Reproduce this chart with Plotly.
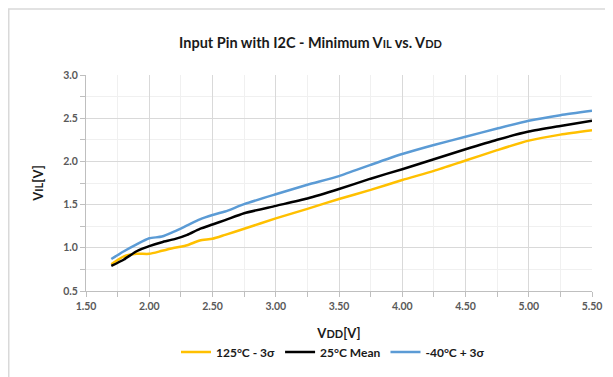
import plotly.graph_objects as go

vdd = [1.70, 1.80, 1.90, 2.00, 2.10, 2.20, 2.30, 2.40, 2.50, 2.60, 2.75,
       3.00, 3.25, 3.50, 3.75, 4.00, 4.25, 4.50, 4.75, 5.00, 5.25, 5.50]

vil_125_3s = [0.81, 0.90, 0.93, 0.93, 0.965, 1.00, 1.03, 1.085, 1.105, 1.15, 1.22,
              1.34, 1.45, 1.565, 1.67, 1.785, 1.89, 2.01, 2.13, 2.24, 2.31, 2.36]
vil_25_mean = [0.79, 0.865, 0.96, 1.02, 1.065, 1.10, 1.15, 1.22, 1.27, 1.32, 1.40,
               1.485, 1.57, 1.68, 1.80, 1.91, 2.025, 2.14, 2.25, 2.345, 2.41, 2.47]
vil_m40_3s = [0.87, 0.96, 1.04, 1.11, 1.13, 1.19, 1.26, 1.33, 1.38, 1.42, 1.505,
              1.62, 1.73, 1.83, 1.96, 2.085, 2.19, 2.285, 2.38, 2.47, 2.535, 2.585]

names = ["125°C - 3σ", "25°C Mean", "-40°C + 3σ"]
colors = ["#FFC000", "#000000", "#5B9BD5"]

FONT = "Lato"
fig = go.Figure()
for name, ys, c in zip(names, [vil_125_3s, vil_25_mean, vil_m40_3s], colors):
    fig.add_trace(go.Scatter(x=vdd, y=ys, mode="lines", name=name,
                             line=dict(color=c, width=2.5, shape="spline", smoothing=0.6)))

# page body has an 8px margin, so the figure is shrunk by that much
W, H = 605, 369
L, R, T, B = 78, 21, 67, 85
pw, ph = W - L - R, H - T - B

small = "<span style='font-size:11px'>"
tick_font = dict(size=10.5, color="#595959", weight="bold")
fig.update_layout(
    width=W, height=H,
    margin=dict(l=L, r=R, t=T, b=B),
    paper_bgcolor="white", plot_bgcolor="white",
    font=dict(family=FONT, color="#404040"),
    title=dict(text=f"<b>Input Pin with I2C - Minimum V{small}IL</span> vs. V{small}DD</span></b>",
               x=0.5, xanchor="center", y=1 - 35 / H, yanchor="middle",
               font=dict(size=14.5, color="#1a1a1a")),
    showlegend=True,
    legend=dict(orientation="h", x=(333 - 8 - L) / pw, xanchor="center",
                y=-(352 - 8 - (T + ph)) / ph, yanchor="middle",
                font=dict(size=12, color="#1a1a1a", weight="bold"), tracegroupgap=0),
    xaxis=dict(range=[1.5, 5.5], dtick=0.5, tickformat=".2f",
               showgrid=True, gridcolor="#d9d9d9", gridwidth=1,
               showline=True, linecolor="#bfbfbf", ticks="outside", tickcolor="#bfbfbf", ticklen=5,
               tickfont=tick_font,
               minor=dict(dtick=0.25, showgrid=True, gridcolor="#f0f0f0",
                          ticks="outside", ticklen=5, tickcolor="#bfbfbf"),
               title=dict(text=f"<b>V{small}DD</span>[V]</b>", font=dict(size=13, color="#1a1a1a"),
                          standoff=18),
               zeroline=False),
    yaxis=dict(range=[0.5, 3.0], dtick=0.5, tickformat=".1f",
               showgrid=True, gridcolor="#d9d9d9", gridwidth=1,
               showline=True, linecolor="#bfbfbf", ticks="outside", tickcolor="#bfbfbf", ticklen=5,
               tickfont=tick_font,
               minor=dict(dtick=0.25, showgrid=True, gridcolor="#f0f0f0",
                          ticks="outside", ticklen=5, tickcolor="#bfbfbf"),
               title=dict(text=f"<b>V{small}IL</span>[V]</b>", font=dict(size=13, color="#1a1a1a"),
                          standoff=16),
               zeroline=False),
)

# chart frame like the spreadsheet border
fig.add_shape(type="rect", xref="paper", yref="paper",
              x0=(0.75 - L) / pw, x1=(W + 30 - L) / pw,
              y0=-(H + 30 - T - ph) / ph, y1=(T + ph - 0.75) / ph,
              line=dict(color="#d9d9d9", width=1.5), layer="below")

fig.write_html("out.html")
